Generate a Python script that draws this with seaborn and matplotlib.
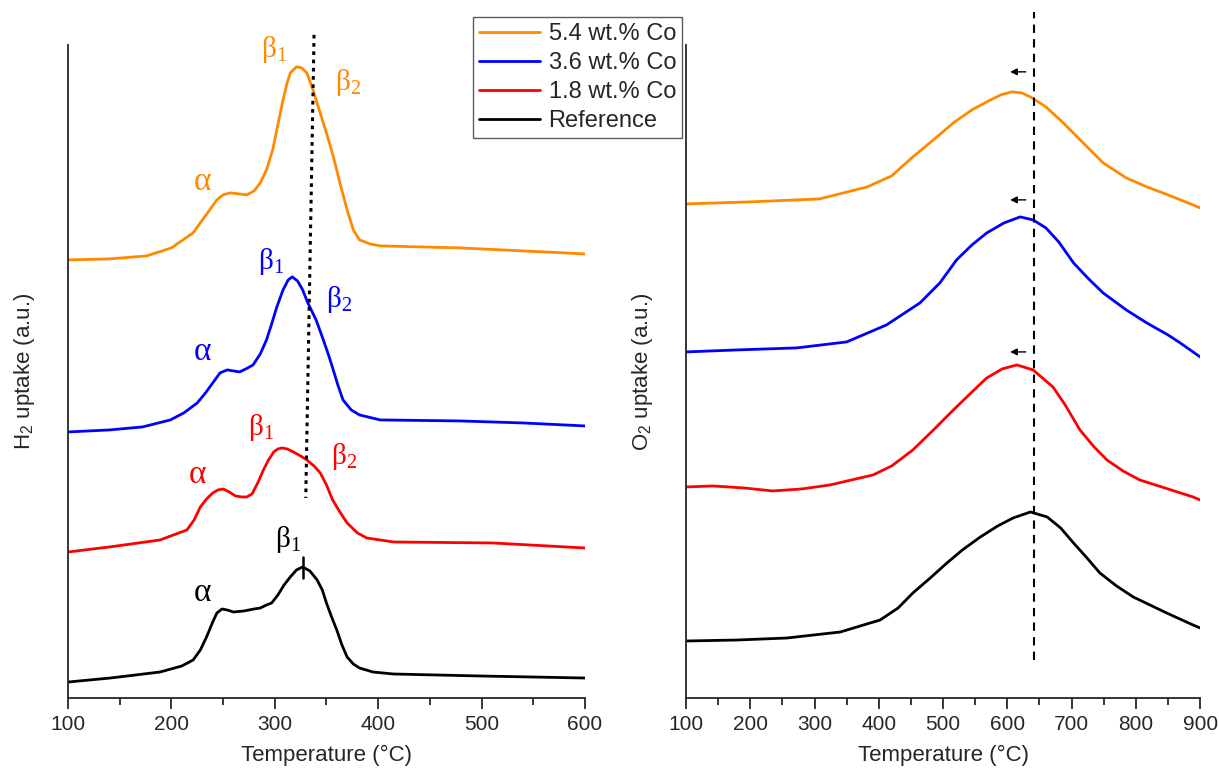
import numpy as np
import pandas as pd
import matplotlib
matplotlib.use("Agg")
import matplotlib.pyplot as plt
import seaborn as sns

# ---- H2-TPR (left panel), temperature in °C, uptake in a.u. ----
t_ref_h2 = [100, 141, 189, 210, 221, 228, 234, 240, 244, 249, 254, 260, 270, 280, 286, 292, 297, 303, 309, 315, 321, 327, 334, 341, 346, 350, 355, 360, 365, 370, 376, 382, 395, 415, 500, 600]
h2_ref = [16, 20, 26, 32, 38, 48, 61, 76, 85, 89, 88, 86, 87, 89, 90, 93, 95, 103, 113, 121, 128, 131, 127, 118, 108, 95, 81, 68, 53, 41, 34, 30, 26, 24, 22, 20]

t_18_h2 = [100, 140, 189, 215, 222, 228, 234, 240, 245, 250, 256, 262, 268, 273, 278, 284, 289, 294, 299, 303, 307, 312, 318, 325, 331, 338, 344, 350, 356, 363, 370, 380, 389, 415, 511, 600]
h2_18 = [146, 151, 158, 168, 178, 191, 199, 205, 208, 209, 206, 202, 201, 201, 204, 216, 228, 238, 246, 249, 250, 249, 246, 242, 238, 232, 225, 213, 198, 186, 175, 165, 160, 156, 155, 150]

t_36_h2 = [100, 140, 172, 199, 212, 225, 233, 240, 247, 254, 260, 266, 272, 279, 286, 292, 297, 302, 308, 313, 317, 322, 327, 332, 340, 347, 352, 356, 361, 366, 374, 382, 402, 479, 540, 600]
h2_36 = [266, 268, 271, 278, 285, 295, 305, 315, 325, 328, 327, 326, 329, 333, 344, 358, 374, 391, 408, 418, 421, 417, 408, 395, 378, 358, 343, 330, 313, 298, 288, 283, 278, 277, 275, 272]

t_54_h2 = [100, 140, 176, 200, 221, 235, 244, 250, 257, 265, 273, 280, 286, 292, 298, 303, 308, 312, 315, 321, 326, 331, 337, 343, 350, 357, 363, 370, 376, 382, 392, 402, 479, 540, 600]
h2_54 = [438, 439, 442, 450, 465, 485, 498, 503, 505, 504, 503, 507, 515, 528, 548, 573, 598, 615, 625, 631, 630, 625, 608, 588, 565, 540, 515, 488, 468, 458, 454, 452, 450, 447, 444]

# ---- O2-TPO (right panel) ----
t_ref_o2 = [100, 180, 257, 340, 402, 430, 453, 480, 506, 530, 558, 585, 609, 636, 662, 683, 703, 724, 744, 770, 796, 848, 889, 900]
o2_ref = [57, 58, 60, 66, 78, 90, 105, 120, 135, 148, 161, 172, 180, 186, 181, 170, 155, 140, 125, 112, 101, 85, 73, 70]

t_18_o2 = [100, 142, 190, 235, 280, 324, 391, 420, 453, 485, 516, 545, 568, 592, 615, 640, 671, 690, 713, 735, 755, 780, 806, 850, 889, 900]
o2_18 = [211, 212, 210, 207, 209, 213, 223, 232, 248, 268, 288, 306, 320, 329, 333, 328, 311, 293, 268, 251, 238, 227, 218, 209, 201, 198]

t_36_o2 = [100, 180, 272, 350, 412, 464, 495, 521, 545, 568, 595, 620, 640, 660, 680, 703, 725, 749, 785, 817, 850, 869, 889, 900]
o2_36 = [346, 348, 350, 356, 373, 395, 415, 438, 453, 465, 475, 481, 478, 470, 456, 435, 420, 405, 388, 375, 363, 355, 346, 341]

t_54_o2 = [100, 200, 308, 382, 420, 453, 485, 516, 545, 568, 590, 607, 622, 636, 660, 687, 718, 749, 785, 817, 850, 889, 900]
o2_54 = [494, 496, 499, 511, 522, 541, 558, 575, 588, 596, 603, 606, 605, 601, 591, 575, 555, 535, 520, 511, 503, 493, 490]

labels = ["5.4 wt.% Co", "3.6 wt.% Co", "1.8 wt.% Co", "Reference"]
colors = ["#FF8A00", "#0000FF", "#FF0000", "#000000"]

sns.set_style("ticks")
plt.rcParams["font.family"] = ["Liberation Sans", "DejaVu Sans"]
plt.rcParams["mathtext.fontset"] = "custom"
plt.rcParams["mathtext.rm"] = "Liberation Serif"
plt.rcParams["mathtext.sf"] = "Liberation Sans"

fig = plt.figure(figsize=(12.19, 7.73), dpi=100)
ax1 = fig.add_axes([0.0558, 0.097, 0.424, 0.845])
ax2 = fig.add_axes([0.5628, 0.097, 0.4217, 0.845])

left_sets = [(t_54_h2, h2_54), (t_36_h2, h2_36), (t_18_h2, h2_18), (t_ref_h2, h2_ref)]
right_sets = [(t_54_o2, o2_54), (t_36_o2, o2_36), (t_18_o2, o2_18), (t_ref_o2, o2_ref)]

for (t, v), lab, c in zip(left_sets, labels, colors):
    sns.lineplot(x=t, y=v, ax=ax1, color=c, lw=2.0, label=lab, sort=False, estimator=None)
for (t, v), lab, c in zip(right_sets, labels, colors):
    sns.lineplot(x=t, y=v, ax=ax2, color=c, lw=2.0, sort=False, estimator=None)

for ax, xmax in [(ax1, 600), (ax2, 900)]:
    ax.set_xlim(100, xmax)
    ax.set_ylim(0, 653)
    ax.set_yticks([])
    ax.set_xticks(np.arange(100, xmax + 1, 100))
    ax.set_xticks(np.arange(150, xmax, 100), minor=True)
    ax.tick_params(axis="x", which="major", direction="out", length=8, width=1.3, labelsize=15, pad=4)
    ax.tick_params(axis="x", which="minor", direction="out", length=5, width=1.3)
    for s in ["top", "right"]:
        ax.spines[s].set_visible(False)
    for s in ["left", "bottom"]:
        ax.spines[s].set_linewidth(1.3)
    ax.set_xlabel("Temperature (°C)", fontsize=16, labelpad=8)

ax1.set_ylabel(r"H$_\mathsf{2}$ uptake (a.u.)", fontsize=16, labelpad=22)
ax2.set_ylabel(r"O$_\mathsf{2}$ uptake (a.u.)", fontsize=16, labelpad=22)

# legend
h, l = ax1.get_legend_handles_labels()
ax1.get_legend().remove()
leg = fig.legend(h, l, loc="upper left", bbox_to_anchor=(473 / 1219, 1 - 17 / 773), fontsize=17,
                 frameon=True, fancybox=False, edgecolor="#333333", handlelength=2.6,
                 borderpad=0.25, labelspacing=0.3, handletextpad=0.35, borderaxespad=0)
leg.get_frame().set_linewidth(1.0)

# peak labels (left)
peak_labels = [
    (299, 648, r"$\mathrm{β}_1$", colors[0]), (371, 615, r"$\mathrm{β}_2$", colors[0]), (230, 516, "α", colors[0]),
    (296, 436, r"$\mathrm{β}_1$", colors[1]), (362, 398, r"$\mathrm{β}_2$", colors[1]), (230, 346, "α", colors[1]),
    (287, 270, r"$\mathrm{β}_1$", colors[2]), (367, 241, r"$\mathrm{β}_2$", colors[2]), (225, 223, "α", colors[2]),
    (313, 158, r"$\mathrm{β}_1$", colors[3]), (230, 105, "α", colors[3]),
]
for x, y, s, c in peak_labels:
    size = 24 if s == "α" else 21
    ax1.text(x, y, s, color=c, fontsize=size, ha="center", va="center", family="Liberation Serif")

ax1.plot([327, 327], [120, 141], color="black", lw=1.8)
ax1.plot([338, 330], [663, 200], color="black", lw=2.2, ls=(0, (1.2, 1.5)), clip_on=False)

# right: dashed line and shift arrows
ax2.plot([641, 641], [38, 686], color="black", lw=1.5, ls=(0, (4, 3)), clip_on=False)
for y in [626, 498, 346]:
    ax2.annotate("", xy=(600, y), xytext=(633, y),
                 arrowprops=dict(arrowstyle="-|>", color="black", lw=1.0, mutation_scale=10))

fig.savefig("out.png", dpi=100)
